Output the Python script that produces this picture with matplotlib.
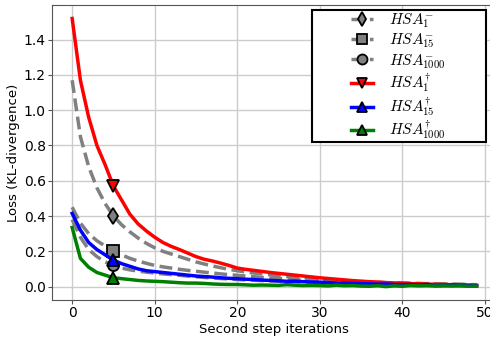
import numpy as np
import matplotlib.pyplot as plt
from matplotlib.patches import Rectangle

plt.rcParams['mathtext.fontset'] = 'cm'

iters = np.arange(50)

hsa_minus_1 = [1.17, 0.85, 0.68, 0.56, 0.47, 0.40, 0.35, 0.31, 0.275, 0.245,
               0.22, 0.20, 0.185, 0.17, 0.155, 0.14, 0.128, 0.117, 0.107, 0.098,
               0.09, 0.083, 0.077, 0.072, 0.067, 0.062, 0.057, 0.053, 0.049, 0.045,
               0.041, 0.038, 0.035, 0.032, 0.03, 0.028, 0.026, 0.024, 0.022, 0.021,
               0.02, 0.018, 0.017, 0.016, 0.015, 0.014, 0.013, 0.012, 0.011, 0.010]
hsa_minus_15 = [0.45, 0.36, 0.30, 0.26, 0.23, 0.20, 0.18, 0.16, 0.145, 0.132,
                0.12, 0.112, 0.105, 0.098, 0.092, 0.087, 0.082, 0.077, 0.072, 0.068,
                0.064, 0.06, 0.056, 0.052, 0.049, 0.046, 0.043, 0.04, 0.037, 0.035,
                0.033, 0.031, 0.029, 0.027, 0.026, 0.025, 0.024, 0.023, 0.022, 0.021,
                0.02, 0.019, 0.018, 0.017, 0.016, 0.015, 0.014, 0.013, 0.012, 0.011]
hsa_minus_1000 = [0.38, 0.28, 0.21, 0.17, 0.14, 0.12, 0.105, 0.095, 0.088, 0.082,
                  0.077, 0.072, 0.068, 0.064, 0.06, 0.056, 0.052, 0.049, 0.046, 0.043,
                  0.04, 0.038, 0.036, 0.034, 0.032, 0.03, 0.028, 0.027, 0.026, 0.025,
                  0.024, 0.023, 0.022, 0.021, 0.02, 0.019, 0.018, 0.017, 0.016, 0.016,
                  0.015, 0.014, 0.013, 0.013, 0.012, 0.011, 0.011, 0.01, 0.01, 0.009]
hsa_dag_1 = [1.52, 1.17, 0.96, 0.80, 0.69, 0.57, 0.49, 0.41, 0.355, 0.315,
             0.28, 0.25, 0.228, 0.21, 0.19, 0.17, 0.155, 0.145, 0.133, 0.12,
             0.105, 0.098, 0.092, 0.086, 0.08, 0.075, 0.07, 0.065, 0.06, 0.055,
             0.05, 0.046, 0.042, 0.038, 0.034, 0.031, 0.028, 0.026, 0.023, 0.021,
             0.019, 0.017, 0.016, 0.014, 0.013, 0.012, 0.011, 0.010, 0.009, 0.008]
hsa_dag_15 = [0.415, 0.32, 0.25, 0.21, 0.18, 0.15, 0.13, 0.115, 0.10, 0.09,
              0.085, 0.08, 0.075, 0.07, 0.065, 0.06, 0.057, 0.054, 0.05, 0.047,
              0.045, 0.042, 0.04, 0.037, 0.035, 0.033, 0.03, 0.031, 0.028, 0.026,
              0.025, 0.023, 0.02, 0.021, 0.018, 0.017, 0.016, 0.014, 0.015, 0.012,
              0.011, 0.012, 0.009, 0.012, 0.006, 0.007, 0.008, 0.007, 0.006, 0.004]
hsa_dag_1000 = [0.335, 0.16, 0.11, 0.08, 0.065, 0.05, 0.045, 0.04, 0.035, 0.032,
                0.03, 0.028, 0.025, 0.022, 0.02, 0.02, 0.018, 0.015, 0.013, 0.012,
                0.012, 0.01, 0.008, 0.009, 0.008, 0.007, 0.011, 0.008, 0.006, 0.007,
                0.006, 0.004, 0.008, 0.005, 0.006, 0.003, 0.002, 0.005, 0.0, 0.004,
                0.002, 0.006, 0.004, 0.005, 0.003, 0.004, 0.003, 0.004, 0.002, 0.003]

fig = plt.figure(figsize=(4.9, 3.39), dpi=100)
ax = fig.add_axes([0.106, 0.115, 0.908, 0.87])

mk = dict(markevery=[5], markersize=8, markeredgecolor='black', markeredgewidth=1.3)
ax.plot(iters, hsa_minus_1, '--', color='gray', lw=2.5, marker='d',
        markerfacecolor='gray', label=r'$HSA^{-}_{1}$', **mk)
ax.plot(iters, hsa_minus_15, '--', color='gray', lw=2.5, marker='s',
        markerfacecolor='gray', label=r'$HSA^{-}_{15}$', **mk)
ax.plot(iters, hsa_minus_1000, '--', color='gray', lw=2.5, marker='o',
        markerfacecolor='gray', label=r'$HSA^{-}_{1000}$', **mk)
ax.plot(iters, hsa_dag_1, '-', color='red', lw=2.5, marker='v',
        markerfacecolor='red', label=r'$HSA^{\dagger}_{1}$', **mk)
ax.plot(iters, hsa_dag_15, '-', color='blue', lw=2.5, marker='^',
        markerfacecolor='blue', label=r'$HSA^{\dagger}_{15}$', **mk)
ax.plot(iters, hsa_dag_1000, '-', color='green', lw=2.5, marker='^',
        markerfacecolor='green', label=r'$HSA^{\dagger}_{1000}$', **mk)

ax.grid(True, color='#cccccc', lw=1)
ax.set_axisbelow(True)
for s in ax.spines.values():
    s.set_color('#555555')
ax.tick_params(colors='#555555', labelcolor='black', labelsize=10,
               length=3, pad=1.5)
ax.set_xlabel('Second step iterations', fontsize=9.5, labelpad=2)
ax.set_ylabel('Loss (KL-divergence)', fontsize=9.5, labelpad=3)

# legend content centred inside a wide black box
ax.add_patch(Rectangle((0.584, 0.536), 0.391, 0.447, transform=ax.transAxes,
                       facecolor='white', edgecolor='black', lw=1.5, zorder=5))
leg = ax.legend(loc='center', bbox_to_anchor=(0.779, 0.759), fontsize=11,
                frameon=False, handlelength=1.4, handletextpad=1.1,
                labelspacing=0.1, markerscale=0.9)
leg.set_zorder(6)

fig.savefig('out.png', dpi=100)
